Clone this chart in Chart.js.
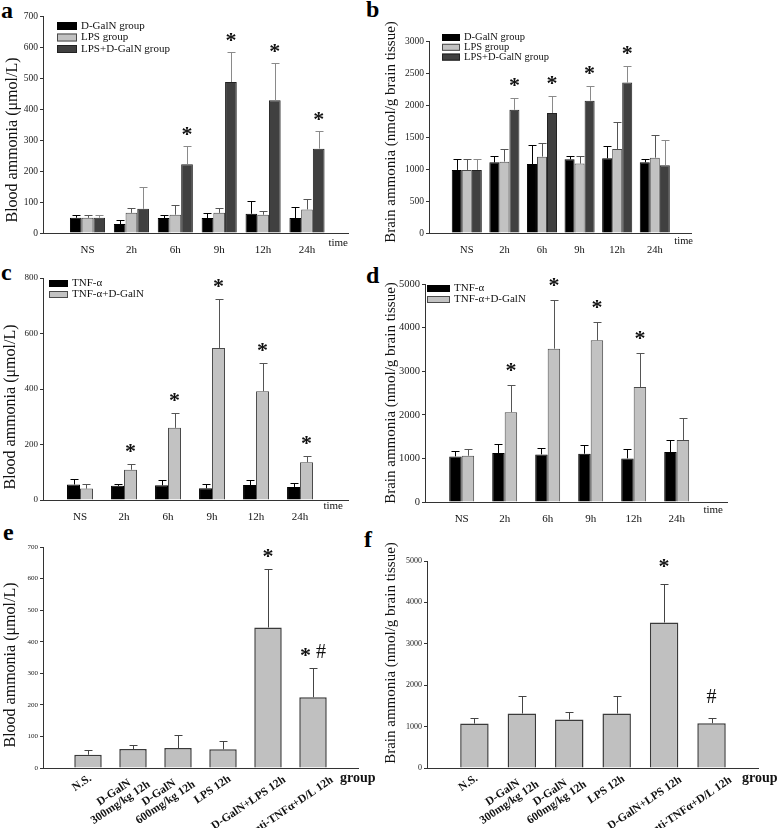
<!DOCTYPE html>
<html>
<head>
<meta charset="utf-8">
<title>Blood and brain ammonia</title>
<script src="https://cdn.jsdelivr.net/npm/chart.js@4.4.1/dist/chart.umd.min.js"></script>
<style>
    html, body { margin: 0; padding: 0; background: #fff; }
    body { position: relative; width: 778px; height: 828px; overflow: hidden; }
    canvas { position: absolute; }
    .tag { position: absolute; font: bold 24px "Liberation Serif", serif; line-height: 1; color: #000; }
</style>
</head>
<body>
<div class="tag" style="left:1px;top:-2px">a</div>
<div class="tag" style="left:366px;top:-3px">b</div>
<div class="tag" style="left:1px;top:260px">c</div>
<div class="tag" style="left:366px;top:263px">d</div>
<div class="tag" style="left:3px;top:520px">e</div>
<div class="tag" style="left:364px;top:527px">f</div>
<canvas id="chartA"></canvas>
<canvas id="chartB"></canvas>
<canvas id="chartC"></canvas>
<canvas id="chartD"></canvas>
<canvas id="chartE"></canvas>
<canvas id="chartF"></canvas>
<script>
// ---- data --------------------------------------------------------------
const timeLabels = ['NS', '2h', '6h', '9h', '12h', '24h'];
const groupLabels = [['N.S.'], ['D-GalN', '300mg/kg 12h'], ['D-GalN', '600mg/kg 12h'],
    ['LPS 12h'], ['D-GalN+LPS 12h'], ['anti-TNFα+D/L 12h']];
const lpsNames = ['D-GalN group', 'LPS group', 'LPS+D-GalN group'];
const tnfNames = ['TNF-α', 'TNF-α+D-GalN'];

// a: blood ammonia (µmol/L), LPS model
const aGalN = [49, 29, 48, 48, 62, 48];
const aGalNErr = [10, 13, 11, 15, 41, 37];
const aLps = [49, 65, 59, 65, 59, 76];
const aLpsErr = [10, 17, 30, 17, 12, 33];
const aBoth = [49, 78, 222, 487, 428, 272];
const aBothErr = [10, 71, 58, 98, 120, 56];
const aMarks = ['', '', '*', '*', '*', '*'];
const aTicks = [0, 100, 200, 300, 400, 500, 600, 700];

// b: brain ammonia (nmol/g brain tissue), LPS model
const bGalN = [985, 1104, 1078, 1151, 1167, 1104];
const bGalNErr = [170, 105, 300, 55, 200, 50];
const bLps = [985, 1115, 1193, 1084, 1313, 1177];
const bLpsErr = [170, 198, 220, 115, 425, 350];
const bBoth = [985, 1925, 1875, 2068, 2350, 1058];
const bBothErr = [170, 180, 260, 225, 255, 400];
const bMarks = ['', '*', '*', '*', '*', ''];
const bTicks = [0, 500, 1000, 1500, 2000, 2500, 3000];

// c: blood ammonia, TNF-α model
const cTnf = [56, 51, 53, 42, 54, 47];
const cTnfErr = [18, 5, 18, 14, 17, 15];
const cTnfGalN = [41, 109, 260, 548, 392, 136];
const cTnfGalNErr = [16, 21, 55, 175, 103, 24];
const cMarks = ['', '*', '*', '*', '*', '*'];
const cTicks = [0, 200, 400, 600, 800];

// d: brain ammonia, TNF-α model
const dTnf = [1046, 1122, 1092, 1107, 1000, 1145];
const dTnfErr = [115, 205, 145, 200, 206, 267];
const dTnfGalN = [1061, 2061, 3517, 3708, 2638, 1420];
const dTnfGalNErr = [145, 615, 1115, 413, 780, 496];
const dMarks = ['', '*', '*', '*', '*', ''];
const dTicks = [0, 1000, 2000, 3000, 4000, 5000];

// e: blood ammonia by group at 12h
const eBlood = [42, 60, 63, 59, 445, 224];
const eBloodErr = [16, 13, 43, 28, 185, 92];
const eMarks = ['', '', '', '', '*', '* #'];
const eTicks = [0, 100, 200, 300, 400, 500, 600, 700];

// f: brain ammonia by group at 12h
const fBrain = [1073, 1315, 1169, 1315, 3514, 1081];
const fBrainErr = [145, 435, 194, 435, 920, 137];
const fMarks = ['', '', '', '', '*', '#'];
const fTicks = [0, 1000, 2000, 3000, 4000, 5000];

// ---- styles ------------------------------------------------------------
const SERIF = '"Liberation Serif", "Times New Roman", serif';
const BLACK = { fill: '#000000', stroke: '#000000', err: '#000000' };
const LIGHT = { fill: '#c2c2c2', stroke: '#4a4a4a', err: '#555555' };
const DARK = { fill: '#404040', stroke: '#222222', err: '#8a8a8a' };
const PLAIN = { fill: '#c0c0c0', stroke: '#3a3a3a', err: '#444444' };

function drawMark(ctx, text, cx, cy) {
    const parts = text.split(' ');
    const fonts = parts.map(p => p === '#' ? '20px ' + SERIF : 'bold 22px ' + SERIF);
    const lift = parts.map(p => p === '#' ? 0.34 * 20 : 0.48 * 22);
    const widths = parts.map((p, i) => { ctx.font = fonts[i]; return ctx.measureText(p).width; });
    const gap = 5;
    let x = cx - (widths.reduce((a, b) => a + b, 0) + gap * (parts.length - 1)) / 2;
    ctx.fillStyle = '#111';
    ctx.textAlign = 'left';
    ctx.textBaseline = 'alphabetic';
    parts.forEach((p, i) => {
        ctx.font = fonts[i];
        ctx.fillText(p, x, cy + lift[i]);
        x += widths[i] + gap;
    });
}

// error bars, asterisks, legend, axis titles
const decor = {
    id: 'decor',
    afterDraw(chart, args, o) {
        const ctx = chart.ctx;
        const area = chart.chartArea;
        const yScale = chart.scales.y;
        const xScale = chart.scales.x;
        ctx.save();

        chart.data.datasets.forEach((ds, di) => {
            chart.getDatasetMeta(di).data.forEach((bar, i) => {
                const top = Math.round(yScale.getPixelForValue(ds.data[i].y + ds.errors[i])) + 0.5;
                const x = Math.round(bar.x) + 0.5;
                ctx.strokeStyle = ds.errorColor;
                ctx.lineWidth = 1;
                ctx.beginPath();
                ctx.moveTo(x, bar.y);
                ctx.lineTo(x, top);
                ctx.moveTo(x - o.cap / 2, top);
                ctx.lineTo(x + o.cap / 2, top);
                ctx.stroke();
                if (ds.marks[i]) drawMark(ctx, ds.marks[i], bar.x, top - o.markGap);
            });
        });

        if (o.legend) {
            const lg = o.legend;
            ctx.font = lg.font + 'px ' + SERIF;
            ctx.textAlign = 'left';
            ctx.textBaseline = 'middle';
            chart.data.datasets.forEach((ds, i) => {
                const y = lg.y + i * lg.step;
                ctx.fillStyle = ds.backgroundColor;
                ctx.fillRect(lg.x, y - lg.boxH / 2, lg.boxW, lg.boxH);
                ctx.strokeStyle = ds.borderColor;
                ctx.strokeRect(lg.x + 0.5, y - lg.boxH / 2 + 0.5, lg.boxW - 1, lg.boxH - 1);
                ctx.fillStyle = '#111';
                ctx.fillText(ds.label, lg.x + lg.boxW + 4, y);
            });
        }

        // slanted group labels, each block placed by its own width
        if (o.slant) {
            const s = o.slant;
            ctx.font = s.font;
            ctx.fillStyle = '#111';
            ctx.textAlign = 'center';
            ctx.textBaseline = 'middle';
            s.labels.forEach((lines, i) => {
                const w = Math.max(...lines.map(l => ctx.measureText(l).width));
                const cx = xScale.getPixelForValue(i + 1) - s.kx * w + s.dx;
                const cy = area.bottom + s.ky * w + s.dy;
                ctx.save();
                ctx.translate(cx, cy);
                ctx.rotate(-s.angle * Math.PI / 180);
                lines.forEach((l, j) => ctx.fillText(l, 0, (j - (lines.length - 1) / 2) * s.lineHeight));
                ctx.restore();
            });
        }

        const w = o.word;
        ctx.font = w.font;
        ctx.fillStyle = '#111';
        ctx.textAlign = w.align;
        ctx.textBaseline = 'middle';
        ctx.fillText(w.text, w.x, w.y);

        const t = o.title;
        ctx.translate(t.x, t.y);
        ctx.rotate(-Math.PI / 2);
        ctx.font = t.font;
        ctx.textAlign = 'center';
        ctx.textBaseline = 'middle';
        ctx.fillText(t.text, 0, 0);
        ctx.restore();
    }
};

function makePanel(p) {
    const [bl, bt, bw, bh] = p.box;
    const [L, T, R, B] = p.area;
    const canvas = document.getElementById(p.id);
    canvas.width = bw;
    canvas.height = bh;
    canvas.style.left = bl + 'px';
    canvas.style.top = bt + 'px';
    const local = (x, y) => ({ x: x - bl, y: y - bt });

    const legend = p.legend ? Object.assign({}, p.legend, { x: p.legend.x - bl, y: p.legend.y - bt }) : null;
    const title = local(p.title.x, p.title.y);
    const word = local(p.word.x, p.word.y);

    return new Chart(canvas, {
        type: 'bar',
        data: {
            datasets: p.series.map(s => ({
                label: s.label,
                data: s.values.map((v, i) => ({ x: i + 1, y: v })),
                errors: s.errors,
                marks: s.marks || [],
                backgroundColor: s.style.fill,
                borderColor: s.style.stroke,
                errorColor: s.style.err,
                borderWidth: p.barBorder || 1,
                categoryPercentage: p.catPct,
                barPercentage: 1
            }))
        },
        options: {
            responsive: false,
            animation: false,
            events: [],
            layout: { padding: { top: T - bt, right: bl + bw - R, left: 0, bottom: 0 } },
            plugins: {
                legend: { display: false },
                tooltip: { enabled: false },
                decor: {
                    cap: p.cap || 8,
                    markGap: p.markGap,
                    legend: legend,
                    slant: p.slant || null,
                    word: { text: p.word.text, font: p.word.font, align: p.word.align, x: word.x, y: word.y },
                    title: { text: p.title.text, font: p.title.font, x: title.x, y: title.y }
                }
            },
            scales: {
                x: {
                    type: 'linear',
                    offset: false,
                    min: p.xRange[0],
                    max: p.xRange[1],
                    afterBuildTicks: s => { s.ticks = p.labels.map((_, i) => ({ value: i + 1 })); },
                    afterFit: s => { s.height = bt + bh - B; },
                    grid: { display: false },
                    border: { color: '#333', width: 1 },
                    ticks: {
                        display: !p.slant,
                        autoSkip: false,
                        maxRotation: 0,
                        padding: 3,
                        color: '#111',
                        font: { family: SERIF, size: p.xFont || 11 },
                        callback: v => p.labels[v - 1]
                    }
                },
                y: {
                    min: 0,
                    max: p.yTicks[p.yTicks.length - 1],
                    afterBuildTicks: s => { s.ticks = p.yTicks.map(v => ({ value: v })); },
                    afterFit: s => { s.width = L - bl; },
                    grid: { drawOnChartArea: false, tickLength: 3, color: '#333' },
                    border: { color: '#333', width: 1 },
                    ticks: {
                        padding: 2,
                        color: '#222',
                        font: { family: SERIF, size: p.yFont },
                        callback: v => String(v)
                    }
                }
            }
        },
        plugins: [decor]
    });
}

const bloodTitle = 'Blood ammonia (μmol/L)';
const brainTitle = 'Brain ammonia (nmol/g brain tissue)';
const slantStyle = { font: 'bold 11.5px ' + SERIF, angle: 34, kx: 0.2, ky: 0.3, dx: -2, dy: 9, lineHeight: 12 };

makePanel({
    id: 'chartA', box: [0, 0, 389, 265], area: [43, 16, 348, 233], xRange: [-0.014, 6.934],
    labels: timeLabels, yTicks: aTicks, yFont: 9.5, catPct: 0.8, markGap: 16,
    series: [
        { label: lpsNames[0], values: aGalN, errors: aGalNErr, style: BLACK },
        { label: lpsNames[1], values: aLps, errors: aLpsErr, style: LIGHT },
        { label: lpsNames[2], values: aBoth, errors: aBothErr, marks: aMarks, style: DARK }
    ],
    legend: { x: 57, y: 26, step: 11.5, boxW: 20, boxH: 8, font: 11 },
    word: { text: 'time', x: 348, y: 243, font: '11px ' + SERIF, align: 'right' },
    title: { text: bloodTitle, x: 12.5, y: 140, font: '16px ' + SERIF }
});

makePanel({
    id: 'chartB', box: [365, 0, 413, 265], area: [429, 41, 691, 233], xRange: [-0.005, 6.963],
    labels: timeLabels, yTicks: bTicks, yFont: 9.5, xFont: 10.5, catPct: 0.8, markGap: 17,
    series: [
        { label: lpsNames[0], values: bGalN, errors: bGalNErr, style: BLACK },
        { label: lpsNames[1], values: bLps, errors: bLpsErr, style: LIGHT },
        { label: lpsNames[2], values: bBoth, errors: bBothErr, marks: bMarks, style: DARK }
    ],
    legend: { x: 442, y: 37.5, step: 9.8, boxW: 18, boxH: 7, font: 10.5 },
    word: { text: 'time', x: 693, y: 241, font: '10.5px ' + SERIF, align: 'right' },
    title: { text: brainTitle, x: 391, y: 132, font: '15px ' + SERIF }
});

makePanel({
    id: 'chartC', box: [0, 262, 389, 265], area: [43, 278, 348, 500], xRange: [0.159, 7.09],
    labels: timeLabels, yTicks: cTicks, yFont: 9, catPct: 0.59, markGap: 17,
    series: [
        { label: tnfNames[0], values: cTnf, errors: cTnfErr, style: BLACK },
        { label: tnfNames[1], values: cTnfGalN, errors: cTnfGalNErr, marks: cMarks, style: LIGHT }
    ],
    legend: { x: 49, y: 283.5, step: 11, boxW: 19, boxH: 7, font: 11 },
    word: { text: 'time', x: 343, y: 506, font: '11px ' + SERIF, align: 'right' },
    title: { text: bloodTitle, x: 11, y: 407, font: '16px ' + SERIF }
});

makePanel({
    id: 'chartD', box: [365, 262, 413, 265], area: [425, 284, 727, 502], xRange: [0.147, 7.17],
    labels: timeLabels, yTicks: dTicks, yFont: 10.5, catPct: 0.58, markGap: 19,
    series: [
        { label: tnfNames[0], values: dTnf, errors: dTnfErr, style: BLACK },
        { label: tnfNames[1], values: dTnfGalN, errors: dTnfGalNErr, marks: dMarks, style: LIGHT }
    ],
    legend: { x: 427, y: 288.5, step: 11, boxW: 23, boxH: 7, font: 11 },
    word: { text: 'time', x: 723, y: 510, font: '11px ' + SERIF, align: 'right' },
    title: { text: brainTitle, x: 391, y: 393, font: '15px ' + SERIF }
});

makePanel({
    id: 'chartE', box: [0, 527, 389, 301], area: [43, 547, 358, 768], xRange: [0, 7],
    labels: groupLabels, yTicks: eTicks, yFont: 7, catPct: 0.61, markGap: 17, barBorder: 1.5,
    series: [{ label: 'Blood ammonia', values: eBlood, errors: eBloodErr, marks: eMarks, style: PLAIN }],
    slant: Object.assign({ labels: groupLabels }, slantStyle),
    word: { text: 'group', x: 340, y: 778, font: 'bold 14px ' + SERIF, align: 'left' },
    title: { text: bloodTitle, x: 11, y: 665, font: '16px ' + SERIF }
});

makePanel({
    id: 'chartF', box: [365, 527, 413, 301], area: [427, 561, 758, 768], xRange: [0, 6.98],
    labels: groupLabels, yTicks: fTicks, yFont: 8, catPct: 0.6, markGap: 22, barBorder: 1.5,
    series: [{ label: 'Brain ammonia', values: fBrain, errors: fBrainErr, marks: fMarks, style: PLAIN }],
    slant: Object.assign({ labels: groupLabels }, slantStyle),
    word: { text: 'group', x: 742, y: 778, font: 'bold 14px ' + SERIF, align: 'left' },
    title: { text: brainTitle, x: 391, y: 653, font: '15px ' + SERIF }
});
</script>
</body>
</html>
